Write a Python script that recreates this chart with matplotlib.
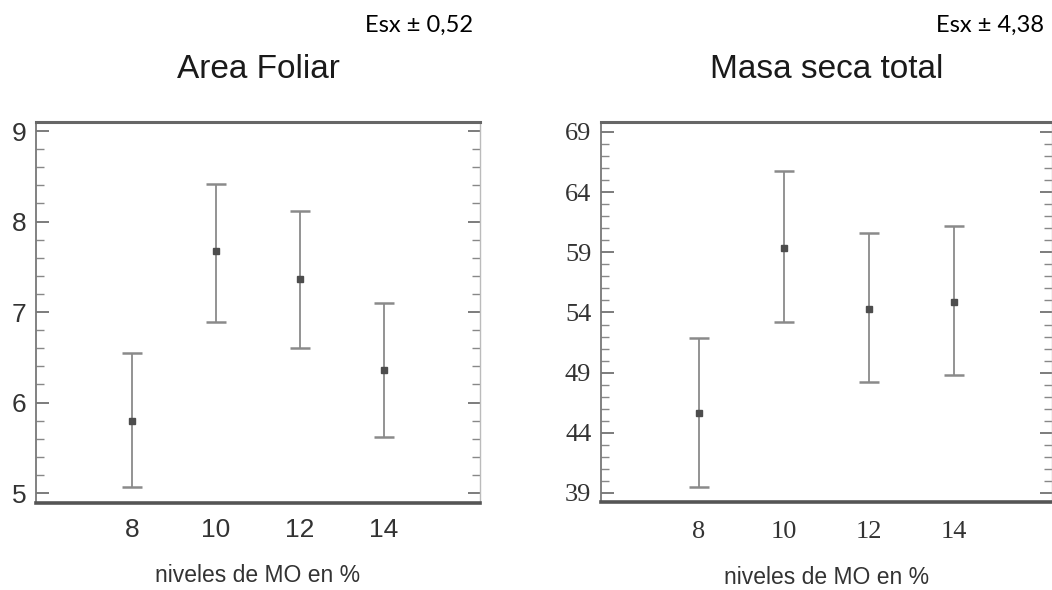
import matplotlib
matplotlib.use("Agg")
import matplotlib.pyplot as plt
from matplotlib import font_manager
from matplotlib.ticker import MultipleLocator

# niveles de materia organica (%)
niveles = [8, 10, 12, 14]

# Area foliar: media y limites de la barra de error
af_media = [5.80, 7.67, 7.36, 6.36]
af_sup = [6.55, 8.41, 8.12, 7.10]
af_inf = [5.07, 6.89, 6.60, 5.62]
af_yticks = [5, 6, 7, 8, 9]

# Masa seca total
ms_media = [45.65, 59.4, 54.25, 54.9]
ms_sup = [51.9, 65.75, 60.6, 61.2]
ms_inf = [39.5, 53.2, 48.2, 48.8]
ms_yticks = [39, 44, 49, 54, 59, 64, 69]

af_esx = "Esx ± 0,52"
ms_esx = "Esx ± 4,38"

installed = {f.name for f in font_manager.fontManager.ttflist}
SANS = "Liberation Sans Narrow" if "Liberation Sans Narrow" in installed else "Liberation Sans"
SERIF = "Liberation Serif"
NOTE = "Lato" if "Lato" in installed else "DejaVu Sans"

fig = plt.figure(figsize=(10.52, 5.9), dpi=100)
ax1 = fig.add_axes([36 / 1052, 87 / 590, 444 / 1052, 381 / 590])
ax2 = fig.add_axes([601 / 1052, 88 / 590, 451 / 1052, 380 / 590])


def panel(ax, media, sup, inf, title, yticks, ylim, minor, tickfont, xpad):
    lower = [m - i for m, i in zip(media, inf)]
    upper = [s - m for s, m in zip(sup, media)]
    ax.errorbar(niveles, media, yerr=[lower, upper], fmt="s", ms=4.5,
                color="#4d4d4d", ecolor="#8a8a8a", elinewidth=1.3,
                capsize=7.5, capthick=1.8, zorder=3)
    ax.set_xlim(5.7, 16.3)
    ax.set_ylim(*ylim)
    ax.set_xticks(niveles)
    ax.set_yticks(yticks)
    ax.yaxis.set_minor_locator(MultipleLocator(minor))
    ax.tick_params(axis="x", length=0, pad=xpad, labelsize=19,
                   labelcolor="#333333")
    ax.tick_params(axis="y", which="major", direction="in", length=9, width=1.2,
                   color="#666666", left=True, right=True, pad=7,
                   labelsize=19, labelcolor="#333333")
    ax.tick_params(axis="y", which="minor", direction="in", length=6, width=1,
                   color="#888888", left=True, right=True)
    for lab in ax.get_xticklabels() + ax.get_yticklabels():
        lab.set_family(tickfont)
    ax.spines["top"].set_color("#666666")
    ax.spines["top"].set_linewidth(2.2)
    ax.spines["bottom"].set_color("#555555")
    ax.spines["bottom"].set_linewidth(2.6)
    ax.spines["left"].set_color("#777777")
    ax.spines["left"].set_linewidth(1.3)
    ax.spines["right"].set_color("#bbbbbb")
    ax.spines["right"].set_linewidth(1.0)
    ax.set_xlabel("niveles de MO en %", family=SANS, fontsize=16.5,
                  color="#333333", labelpad=16)
    ax.text(0.5, 1.137, title, transform=ax.transAxes, ha="center",
            va="center", family=SANS, fontsize=24, color="#1a1a1a")


panel(ax1, af_media, af_sup, af_inf, "Area Foliar", af_yticks,
      (4.89, 9.1), 0.2, SANS, 11)
panel(ax2, ms_media, ms_sup, ms_inf, "Masa seca total", ms_yticks,
      (38.25, 69.83), 1, SERIF, 14)

fig.text(473 / 1052, 1 - 25 / 590, af_esx, ha="right", va="center",
         family=NOTE, fontsize=17, color="black")
fig.text(1044 / 1052, 1 - 25 / 590, ms_esx, ha="right", va="center",
         family=NOTE, fontsize=17, color="black")

fig.savefig("out.png", dpi=100, facecolor="white")
